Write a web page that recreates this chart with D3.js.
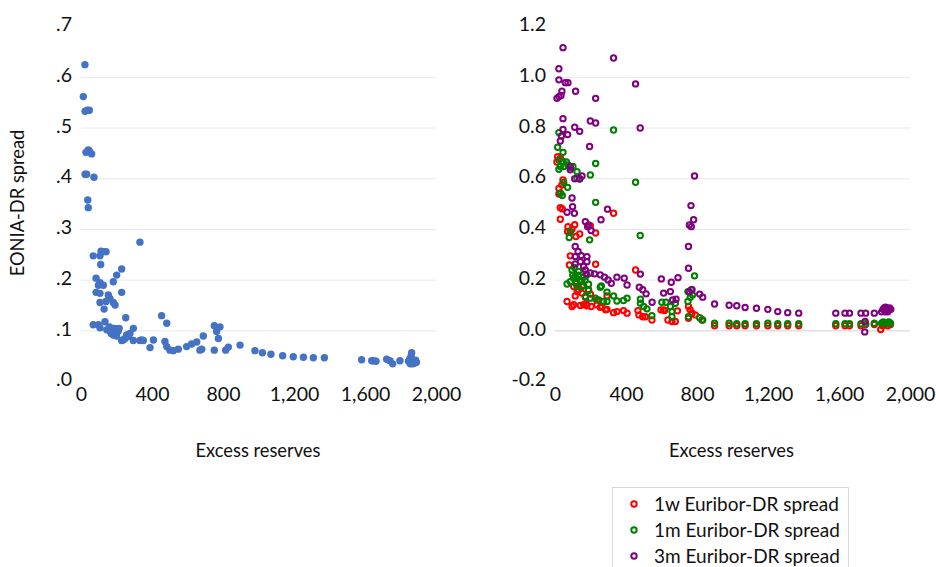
<!DOCTYPE html>
<html><head><meta charset="utf-8">
<script src="https://cdn.jsdelivr.net/npm/d3@7"></script>
<style>
body{margin:0;background:#fff;}
svg{display:block;font-family:Lato, "Open Sans", sans-serif;}
</style></head>
<body><svg id="c" width="936" height="567"></svg>
<script>
// ---- data ----
const xTicks = [0, 400, 800, 1200, 1600, 2000];
const leftYTicks = [0, 0.1, 0.2, 0.3, 0.4, 0.5, 0.6, 0.7];
const rightYTicks = [-0.2, 0, 0.2, 0.4, 0.6, 0.8, 1.0, 1.2];
const leftYTitle = "EONIA-DR spread";
const xTitle = "Excess reserves";
const seriesNames = ["1w Euribor-DR spread", "1m Euribor-DR spread", "3m Euribor-DR spread"];
const seriesColors = ["#ff0000", "#008000", "#800080"];

// EONIA-DR spread vs excess reserves [x, y]
const eonia = [[22,0.625],[13,0.562],[23,0.533],[36,0.535],[47,0.535],[28,0.452],[41,0.457],[47,0.455],[60,0.449],[23,0.409],[32,0.409],[73,0.403],[38,0.358],[41,0.343],[332,0.275],[69,0.248],[107,0.248],[113,0.257],[126,0.256],[141,0.256],[111,0.231],[85,0.204],[229,0.222],[201,0.21],[182,0.197],[98,0.19],[107,0.195],[126,0.19],[85,0.176],[107,0.174],[229,0.176],[154,0.171],[163,0.164],[107,0.156],[141,0.158],[182,0.156],[192,0.151],[130,0.143],[252,0.126],[454,0.13],[483,0.115],[69,0.112],[98,0.112],[107,0.106],[135,0.118],[145,0.102],[163,0.1],[173,0.099],[182,0.092],[192,0.105],[201,0.095],[210,0.1],[170,0.095],[180,0.105],[190,0.098],[200,0.09],[215,0.105],[160,0.108],[229,0.081],[238,0.082],[248,0.085],[257,0.092],[267,0.089],[276,0.095],[295,0.105],[295,0.081],[332,0.081],[342,0.082],[351,0.081],[389,0.067],[408,0.082],[473,0.079],[483,0.069],[501,0.062],[520,0.061],[548,0.064],[595,0.069],[623,0.074],[652,0.078],[670,0.062],[680,0.064],[689,0.09],[751,0.062],[751,0.11],[764,0.099],[783,0.108],[774,0.085],[815,0.062],[830,0.068],[896,0.072],[980,0.061],[1022,0.057],[1070,0.054],[1136,0.051],[1196,0.049],[1253,0.048],[1309,0.047],[1371,0.047],[1581,0.043],[1638,0.041],[1647,0.041],[1662,0.04],[1722,0.044],[1741,0.041],[1756,0.035],[1797,0.041],[1845,0.04],[1853,0.045],[1860,0.05],[1863,0.057],[1868,0.035],[1872,0.04],[1878,0.036],[1885,0.042],[1890,0.038],[1855,0.035]];

// 1w Euribor-DR spread [x, y]
const euribor1w = [[15,0.687],[30,0.681],[11,0.666],[38,0.668],[45,0.595],[39,0.576],[22,0.562],[30,0.543],[22,0.54],[30,0.486],[41,0.481],[30,0.44],[73,0.411],[111,0.419],[71,0.392],[96,0.401],[139,0.382],[118,0.372],[86,0.392],[199,0.415],[229,0.386],[330,0.464],[86,0.296],[81,0.26],[229,0.263],[454,0.24],[118,0.188],[133,0.162],[152,0.149],[171,0.133],[189,0.162],[114,0.138],[236,0.122],[293,0.138],[105,0.175],[140,0.2],[160,0.18],[125,0.155],[200,0.145],[68,0.116],[96,0.096],[105,0.103],[161,0.103],[180,0.099],[204,0.096],[236,0.103],[265,0.096],[293,0.085],[330,0.072],[349,0.076],[386,0.08],[406,0.07],[143,0.1],[176,0.106],[255,0.093],[285,0.083],[467,0.08],[473,0.063],[494,0.056],[509,0.056],[546,0.043],[597,0.083],[612,0.083],[617,0.08],[636,0.043],[659,0.037],[678,0.037],[690,0.079],[752,0.096],[752,0.05],[761,0.083],[772,0.07],[790,0.063],[828,0.043],[899,0.02],[981,0.02],[1024,0.02],[1071,0.02],[1135,0.02],[1199,0.02],[1255,0.02],[1311,0.02],[1373,0.02],[1582,0.02],[1634,0.02],[1659,0.02],[1724,0.02],[1750,0.025],[1799,0.025],[1835,0.005],[1845,0.02],[1860,0.025],[1875,0.02],[1890,0.025]];

// 1m Euribor-DR spread [x, y]
const euribor1m = [[22,0.782],[15,0.724],[45,0.704],[22,0.674],[45,0.668],[64,0.666],[73,0.654],[30,0.648],[22,0.637],[49,0.648],[86,0.644],[101,0.648],[124,0.628],[124,0.602],[139,0.599],[199,0.615],[229,0.66],[330,0.792],[454,0.586],[480,0.376],[229,0.507],[30,0.543],[41,0.534],[49,0.585],[71,0.566],[86,0.392],[80,0.368],[195,0.359],[786,0.217],[96,0.24],[105,0.208],[114,0.214],[133,0.234],[143,0.201],[161,0.212],[180,0.221],[152,0.175],[124,0.175],[86,0.194],[68,0.185],[189,0.184],[189,0.159],[110,0.25],[120,0.19],[130,0.22],[150,0.195],[170,0.2],[100,0.22],[255,0.172],[261,0.177],[293,0.153],[330,0.138],[349,0.118],[386,0.12],[406,0.129],[171,0.135],[199,0.129],[227,0.129],[246,0.122],[274,0.116],[293,0.116],[481,0.125],[481,0.109],[499,0.096],[518,0.087],[546,0.06],[602,0.113],[625,0.113],[650,0.096],[659,0.076],[678,0.109],[659,0.056],[749,0.155],[762,0.133],[775,0.142],[749,0.116],[752,0.056],[768,0.162],[815,0.052],[832,0.043],[899,0.03],[981,0.03],[1024,0.028],[1071,0.028],[1135,0.028],[1199,0.03],[1255,0.028],[1311,0.028],[1373,0.028],[1582,0.028],[1634,0.028],[1659,0.028],[1724,0.028],[1750,0.028],[1799,0.03],[1840,0.03],[1850,0.035],[1860,0.032],[1870,0.03],[1880,0.035],[1890,0.03]];

// 3m Euribor-DR spread [x, y]
const euribor3m = [[45,1.117],[22,1.034],[22,0.99],[58,0.979],[73,0.979],[39,0.945],[116,0.945],[11,0.917],[22,0.924],[34,0.928],[229,0.917],[330,1.076],[454,0.974],[45,0.837],[199,0.828],[229,0.82],[111,0.803],[139,0.787],[45,0.794],[71,0.774],[36,0.769],[30,0.749],[480,0.8],[195,0.727],[86,0.648],[86,0.635],[111,0.6],[139,0.6],[152,0.611],[786,0.611],[96,0.524],[99,0.49],[68,0.468],[109,0.464],[296,0.48],[259,0.438],[171,0.431],[184,0.411],[203,0.396],[189,0.418],[766,0.494],[781,0.438],[757,0.418],[768,0.411],[752,0.333],[752,0.247],[114,0.333],[130,0.313],[114,0.293],[148,0.297],[180,0.293],[143,0.273],[114,0.264],[180,0.273],[161,0.254],[171,0.24],[199,0.228],[175,0.225],[223,0.225],[255,0.221],[279,0.212],[299,0.201],[317,0.188],[349,0.212],[390,0.208],[406,0.181],[481,0.224],[475,0.172],[494,0.162],[513,0.146],[547,0.113],[599,0.205],[655,0.192],[693,0.21],[612,0.149],[650,0.155],[663,0.122],[682,0.125],[757,0.155],[772,0.162],[815,0.145],[832,0.133],[899,0.106],[981,0.101],[1024,0.099],[1071,0.092],[1135,0.089],[1199,0.085],[1255,0.076],[1311,0.072],[1373,0.07],[1582,0.07],[1634,0.07],[1659,0.07],[1724,0.07],[1750,0.07],[1747,0.037],[1745,-0.004],[1799,0.07],[1840,0.075],[1848,0.085],[1855,0.09],[1862,0.093],[1870,0.088],[1878,0.082],[1885,0.09],[1892,0.085],[1860,0.075],[1875,0.075]];

// ---- drawing ----
const svg = d3.select("#c");
const tickFont = 19.5, titleFont = 18.3, legendFont = 19;

function panel(opts){
  const x = d3.scaleLinear().domain([0,2000]).range(opts.xr);
  const y = d3.scaleLinear().domain(opts.yd).range([381.6, 26.6]);
  const g = svg.append("g");
  // gridlines
  g.selectAll("line.grid").data(opts.grid).join("line")
    .attr("x1", opts.xr[0]).attr("x2", opts.xr[1])
    .attr("y1", d=>y(d)).attr("y2", d=>y(d))
    .attr("stroke", d => d===0 && opts.axisZero ? "#d0d0d0" : "#e8e8e8")
    .attr("stroke-width", 1);
  // y axis
  const ya = d3.axisLeft(y).tickValues(opts.yticks).tickSize(0).tickPadding(0).tickFormat(opts.yfmt);
  const yg = g.append("g").attr("transform", `translate(${opts.xr[0]-9},-2)`).call(ya);
  yg.select(".domain").remove();
  yg.selectAll("text").attr("font-size", tickFont).attr("fill", "#111").attr("font-family","Lato, sans-serif");
  // x axis
  const xa = d3.axisBottom(x).tickValues(xTicks).tickSize(0).tickPadding(0).tickFormat(d3.format(","));
  const xg = g.append("g").attr("transform", `translate(0,387)`).call(xa);
  xg.select(".domain").remove();
  xg.selectAll("text").attr("font-size", tickFont).attr("fill", "#111").attr("font-family","Lato, sans-serif");
  // x title
  g.append("text").attr("x", (opts.xr[0]+opts.xr[1])/2 + opts.xtOff).attr("y", 457)
    .attr("text-anchor","middle").attr("font-size", titleFont).attr("fill","#111").text(xTitle);
  return {x, y, g};
}

// left panel
const L = panel({xr:[81,436], yd:[0,0.7], grid:[0.1,0.2,0.3,0.4,0.5,0.6], yticks:leftYTicks,
  yfmt: d => d3.format(".1f")(d).replace(/^0\./, "."), axisZero:false, xtOff:-0.5});
L.g.selectAll("circle.e").data(eonia).join("circle")
  .attr("cx", d=>L.x(d[0])).attr("cy", d=>L.y(d[1])).attr("r", 3.7)
  .attr("fill", "#4472c4");
L.g.append("text").attr("transform", "translate(24,203) rotate(-90)")
  .attr("text-anchor","middle").attr("font-size", titleFont).attr("fill","#111").text(leftYTitle);

// right panel
const R = panel({xr:[555,910], yd:[-0.2,1.2], grid:[0,0.2,0.4,0.6,0.8,1.0], yticks:rightYTicks,
  yfmt: d => d3.format(".1f")(d).replace("\u2212", "-"), axisZero:true, xtOff:-1});
[euribor1w, euribor1m, euribor3m].forEach((s, i) => {
  R.g.append("g").selectAll("circle").data(s).join("circle")
    .attr("cx", d=>R.x(d[0])).attr("cy", d=>R.y(d[1])).attr("r", 2.7)
    .attr("fill", "none").attr("stroke", seriesColors[i]).attr("stroke-width", 2);
});

// legend
const lg = svg.append("g");
lg.append("rect").attr("x", 612.5).attr("y", 487.5).attr("width", 236).attr("height", 90)
  .attr("fill","#fff").attr("stroke","#d9d9d9");
seriesNames.forEach((n, i) => {
  const yy = 504 + i*26;
  lg.append("circle").attr("cx", 634).attr("cy", yy).attr("r", 2.7)
    .attr("fill","none").attr("stroke", seriesColors[i]).attr("stroke-width", 2);
  lg.append("text").attr("x", 654).attr("y", yy).attr("dy","0.35em")
    .attr("font-size", legendFont).attr("fill","#111").text(n);
});
</script></body></html>
